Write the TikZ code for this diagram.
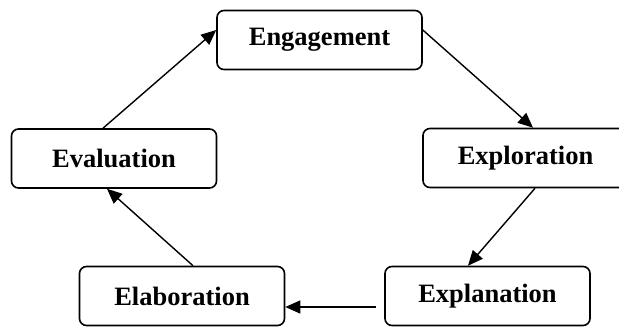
\documentclass[tikz,border=0pt]{standalone}
\usepackage{fontspec}
\setmainfont{Liberation Serif}
\usetikzlibrary{arrows.meta}
\begin{document}
\begin{tikzpicture}[x=1pt,y=-1pt,
  stage/.style={draw, line width=1.6pt, rounded corners=7pt, minimum width=205pt, minimum height=59pt,
    inner sep=0pt, font=\fontsize{26.5}{30}\selectfont\bfseries},
  flow/.style={line width=1.4pt, -{Triangle[length=15pt,width=13pt]}}]
\useasboundingbox (0,0) rectangle (619,327);
\clip (0,0) rectangle (619,327);
\node[stage] (eng) at (319.5,40) {Engagement};
\node[stage] (exp) at (525.5,158) {Exploration};
\node[stage] (expl) at (487.5,296) {Explanation};
\node[stage] (ela) at (182,296) {Elaboration};
\node[stage] (eva) at (114,158.5) {Evaluation};
\draw[flow] ([xshift=-11pt]eva.north) -- ([yshift=10pt]eng.west);
\draw[flow] ([yshift=10pt]eng.east) -- ([xshift=7.5pt]exp.north);
\draw[flow] ([xshift=9.5pt]exp.south) -- ([xshift=-19.5pt]expl.north);
\coordinate (ls) at ([xshift=-8pt,yshift=-11pt]expl.west);
\draw[flow] (ls) -- (ls -| ela.east);
\draw[flow] ([xshift=11pt]ela.north) -- ([xshift=-7pt]eva.south);
\end{tikzpicture}
\end{document}
